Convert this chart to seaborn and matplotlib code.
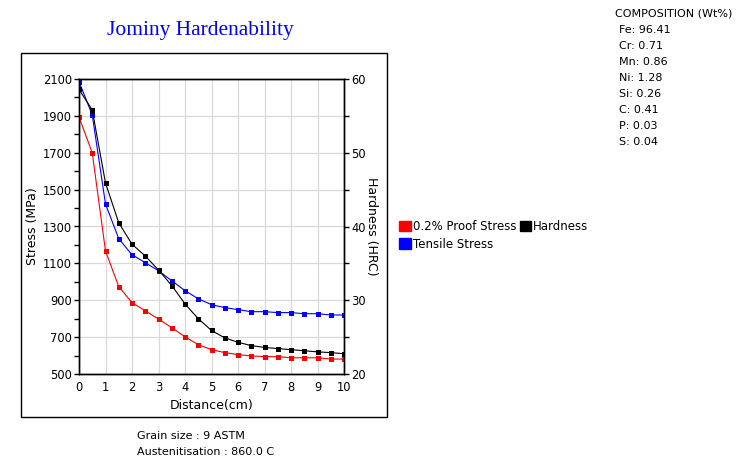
import numpy as np
import pandas as pd
import matplotlib
matplotlib.use("Agg")
import matplotlib.pyplot as plt
import seaborn as sns
from matplotlib.patches import Patch, Rectangle

# data ---------------------------------------------------------------
distance = [0, 0.5, 1, 1.5, 2, 2.5, 3, 3.5, 4, 4.5, 5, 5.5, 6, 6.5, 7, 7.5, 8, 8.5, 9, 9.5, 10]
proof_stress = [1893, 1700, 1167, 974, 887, 843, 798, 751, 702, 659, 632, 616, 605, 598, 594, 594,
                588, 588, 588, 581, 581]
tensile_stress = [2086, 1905, 1422, 1234, 1147, 1104, 1060, 1006, 952, 908, 876, 860, 849, 838, 838, 833,
                  833, 827, 827, 820, 820]
hardness = [58.6, 55.8, 45.9, 40.5, 37.6, 36.0, 34.1, 32.0, 29.5, 27.5, 25.9, 24.9, 24.3, 23.85, 23.6, 23.45,
            23.3, 23.15, 23.0, 22.9, 22.75]

composition = ["Fe: 96.41", "Cr: 0.71", "Mn: 0.86", "Ni: 1.28", "Si: 0.26", "C: 0.41", "P: 0.03", "S: 0.04"]
notes = ["Grain size : 9 ASTM", "Austenitisation : 860.0 C"]

df = pd.DataFrame({"distance": distance, "proof": proof_stress,
                   "tensile": tensile_stress, "hrc": hardness})

sns.set_style("white")
plt.rcParams["font.family"] = ["DejaVu Sans"]
plt.rcParams["text.color"] = "black"
plt.rcParams["axes.labelcolor"] = "black"
plt.rcParams["xtick.color"] = "black"
plt.rcParams["ytick.color"] = "black"

W, H = 742, 475
fig = plt.figure(figsize=(W / 100, H / 100), dpi=100)
ax = fig.add_axes([79 / W, 1 - 374 / H, 265 / W, 295 / H])
ax2 = ax.twinx()

# outer frame
fig.patches.append(Rectangle((21 / W, 1 - 417 / H), 366 / W, 364 / H, transform=fig.transFigure,
                             fill=False, ec="black", lw=1.0))

line_kw = dict(marker="s", markersize=3.6, linewidth=0.8, markeredgewidth=0)
sns.lineplot(data=df, x="distance", y="proof", ax=ax, color="#ff0000", **line_kw)
sns.lineplot(data=df, x="distance", y="tensile", ax=ax, color="#0000ff", **line_kw)
sns.lineplot(data=df, x="distance", y="hrc", ax=ax2, color="black", **line_kw)

ax.set_xlim(0, 10)
ax.set_ylim(500, 2100)
ax2.set_ylim(20, 60)
ax.set_xticks(range(0, 11))
ax.set_xticks(np.arange(0.5, 10, 1), minor=True)
ax.set_yticks(range(500, 2101, 200))
ax.set_yticks(range(600, 2100, 200), minor=True)
ax2.set_yticks(range(20, 61, 10))
ax2.set_yticks(range(25, 60, 10), minor=True)

ax.grid(True, which="major", color="#d9d9d9", lw=0.9)
ax.set_axisbelow(True)

for a in (ax, ax2):
    for s in a.spines.values():
        s.set_color("black")
        s.set_linewidth(1.0)
    a.tick_params(which="both", direction="out", length=3.5, width=1.0, color="black",
                  labelcolor="black", labelsize=8.3, pad=1.5)

ax.set_xlabel("Distance(cm)", fontsize=9, labelpad=4)
ax.set_ylabel("Stress (MPa)", fontsize=9, labelpad=3)
ax2.set_ylabel("Hardness (HRC)", fontsize=9, rotation=-90, labelpad=9)

fig.text(200 / W, 1 - 31 / H, "Jominy Hardenability", color="#0000ff", ha="center", va="center",
         fontsize=15.5, family="Liberation Serif")

# legend
handles = [Patch(color="#ff0000"), Patch(color="#0000ff"), Patch(color="black")]
labels = ["0.2% Proof Stress", "Tensile Stress", "Hardness"]
fig.legend(handles, labels, loc="upper left", bbox_to_anchor=(399 / W, 1 - 220 / H), ncol=2,
           frameon=False, handlelength=1.0, handleheight=1.0, handletextpad=0.15,
           columnspacing=0.3, labelspacing=0.4, fontsize=8.5, borderaxespad=0, borderpad=0)

# composition block
fig.text(615 / W, 1 - 14 / H, "COMPOSITION (Wt%)", fontsize=8, va="center")
for i, c in enumerate(composition):
    fig.text(619 / W, 1 - (30 + 16 * i) / H, c, fontsize=8, va="center")

for i, n in enumerate(notes):
    fig.text(137 / W, 1 - (436 + 16 * i) / H, n, fontsize=8, va="center")

fig.savefig("out.png", dpi=100, facecolor="white")
